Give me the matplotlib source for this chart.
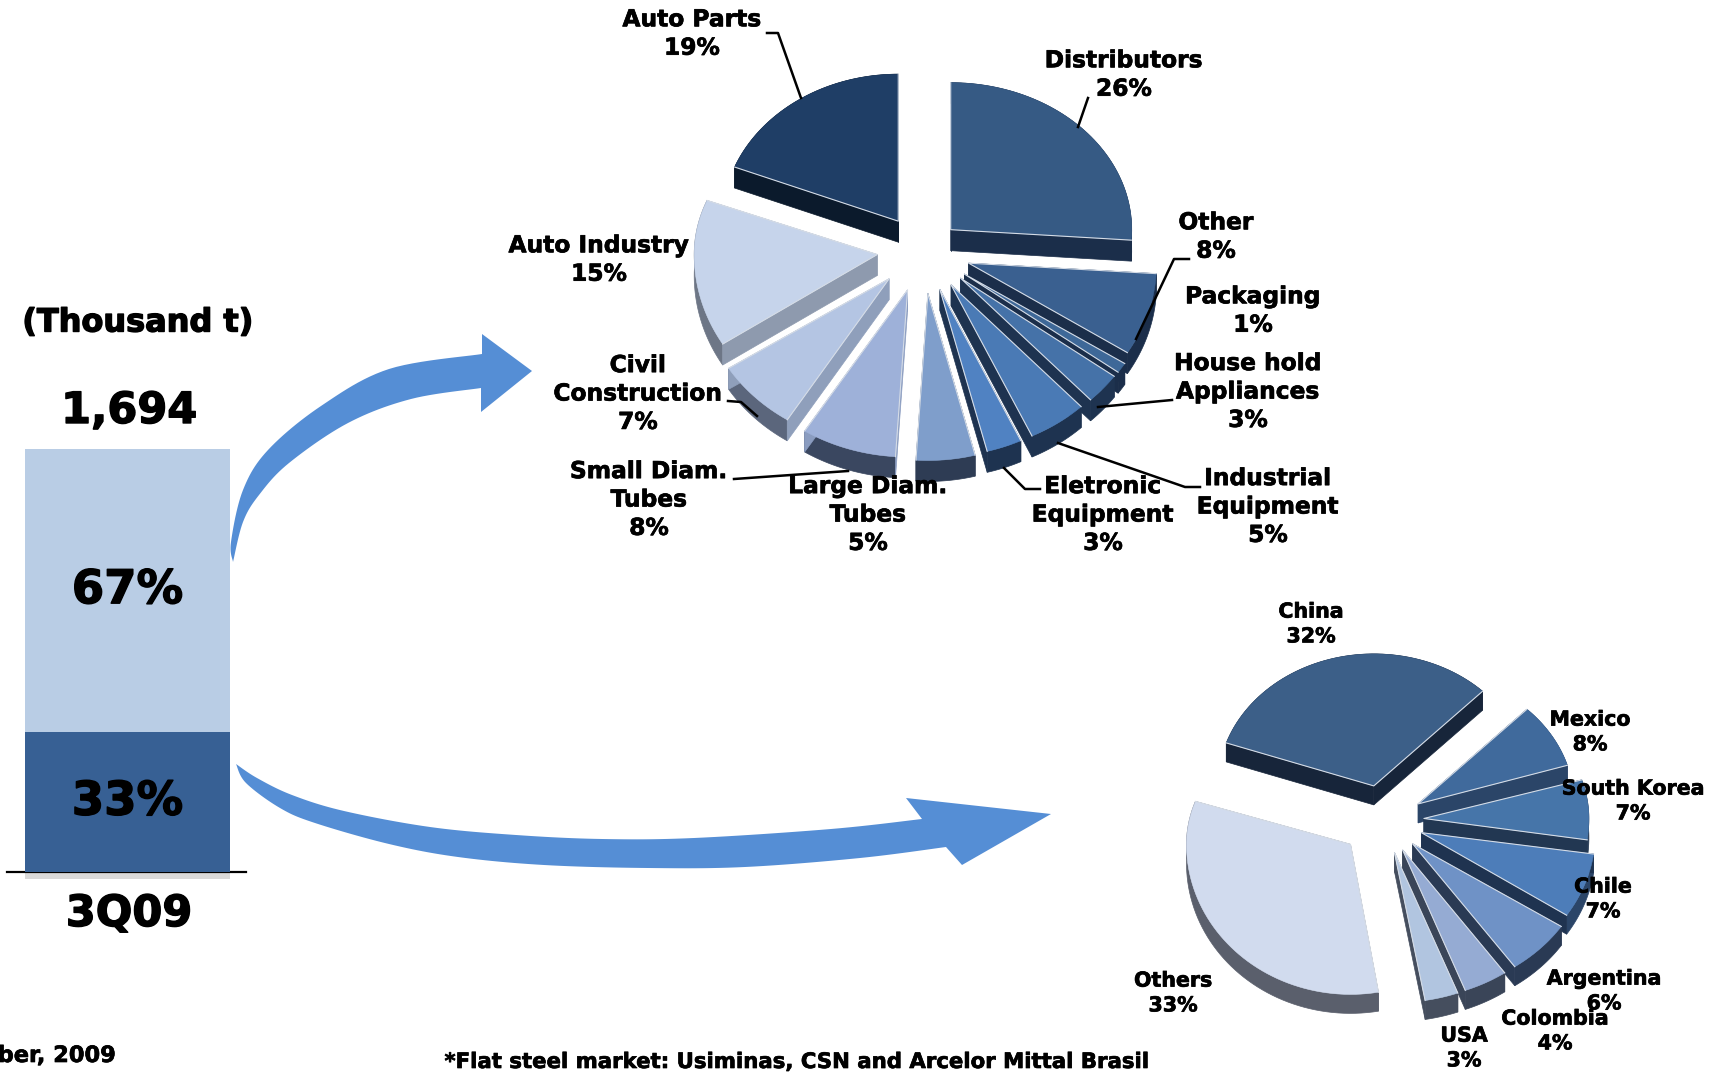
import numpy as np
import matplotlib
matplotlib.use("Agg")
import matplotlib.pyplot as plt
import matplotlib.patheffects as pe

W, H = 1719, 1074

# flat steel shares of the quarter
bar_labels = ["33%", "67%"]
bar_values = [33, 67]
bar_colors = ["#376094", "#b9cde5"]

# domestic market by sector, clockwise from the top
sectors = ["Distributors", "Other", "Packaging", "House hold\nAppliances", "Industrial\nEquipment",
           "Eletronic\nEquipment", "Large Diam.\nTubes", "Small Diam.\nTubes", "Civil\nConstruction",
           "Auto Industry", "Auto Parts"]
sector_values = [26, 8, 1, 3, 5, 3, 5, 8, 7, 15, 19]
sector_top = ["#365a84", "#3a6090", "#3e6898", "#4572a8", "#4a7ab5", "#5082c2",
              "#7f9ecb", "#9eb1d9", "#b4c5e3", "#c6d4eb", "#1f3e66"]
sector_cut = ["#1b2e4a", "#1b2e4a", "#1b2e4a", "#1e3350", "#1e3350", "#1e3350",
              "#2e3c54", "#8a9cc0", "#8f9fbb", "#8e9aae", "#0b1a2c"]
sector_rim = ["#1b2e4a", "#1b2e4a", "#1b2e4a", "#1e3350", "#1e3350", "#1e3350",
              "#2e3c54", "#3a4760", "#5b667c", "#6d7686", "#0b1a2c"]
sector_explode = [38, 48, 50, 50, 50, 50, 52, 50, 48, 46, 44]
sector_rx = [181, 188, 190, 190, 190, 190, 190, 192, 190, 183, 176]
sector_label_xy = [(1124, 75), (1216, 237), (1253, 311), (1248, 392), (1268, 507), (1103, 515),
                   (868, 515), (649, 500), (638, 394), (599, 260), (692, 34)]

# exports by destination, clockwise from China
countries = ["China", "Mexico", "South Korea", "Chile", "Argentina", "Colombia", "USA", "Others"]
country_values = [32, 8, 7, 7, 6, 4, 3, 33]
country_top = ["#3c5f88", "#406a9c", "#4675a9", "#4d7db9", "#6f92c6", "#95abd3", "#b1c5e0", "#d1dbee"]
country_cut = ["#17253a", "#2b4568", "#223752", "#1f3350", "#2a3a54", "#3a4558", "#454e5e", "#5a5f6c"]
country_rim = ["#17253a", "#2b4568", "#223752", "#2b4568", "#2a3a54", "#3a4558", "#454e5e", "#5a5f6c"]
country_explode = [44, 40, 40, 40, 40, 40, 40, 44]
country_rx = [156, 156, 165, 174, 178, 178, 180, 164]
country_label_xy = [(1311, 624), (1590, 732), (1633, 801), (1603, 899), (1604, 991),
                    (1555, 1031), (1464, 1048), (1173, 993)]

leaders = [
    [(767, 33), (778, 33), (801, 98)],
    [(1088, 98), (1078, 127)],
    [(1189, 259), (1174, 259), (1136, 339)],
    [(1172, 400), (1098, 407)],
    [(1200, 487), (1185, 487), (1058, 443)],
    [(1040, 489), (1025, 489), (1004, 468)],
    [(734, 479), (848, 471)],
    [(728, 401), (741, 402), (757, 416)],
]

# arrow outlines: outer edge, head, inner edge
upper_outer = [(233, 562), (231, 542), (243, 490), (268, 450), (321, 406), (389, 369), (482, 354)]
upper_head = [(482, 334), (532, 371), (481, 412)]
upper_inner = [(481, 388), (411, 399), (348, 423), (289, 463), (259, 495), (243, 522), (233, 562)]
lower_outer = [(236, 764), (257, 778), (292, 795), (344, 811), (430, 827), (516, 835), (602, 839),
               (694, 838), (831, 829), (922, 819)]
lower_head = [(906, 798), (1051, 814), (962, 865)]
lower_inner = [(946, 847), (860, 858), (745, 867), (648, 868), (544, 865), (458, 857), (389, 844),
               (315, 823), (280, 808), (246, 783), (236, 764)]


def smooth(points, n=12):
    # Catmull-Rom through the given points
    p = np.array([points[0]] + list(points) + [points[-1]], dtype=float)
    out = []
    for i in range(1, len(p) - 2):
        for t in np.linspace(0, 1, n, endpoint=False):
            out.append(0.5 * (2 * p[i] + (p[i + 1] - p[i - 1]) * t
                              + (2 * p[i - 1] - 5 * p[i] + 4 * p[i + 1] - p[i + 2]) * t ** 2
                              + (3 * p[i] - p[i - 1] - 3 * p[i + 1] + p[i + 2]) * t ** 3))
    out.append(p[-2])
    return np.array(out)


def draw_arrow(ax, outer, head, inner):
    pts = np.vstack([smooth(outer), np.array(head, dtype=float), smooth(inner)])
    ax.fill(pts[:, 0], pts[:, 1], color="#558ed5", lw=0, zorder=2)


def draw_pie(ax, values, center, rx, ry, depth, start, explode, top, cut, rim):
    ry_top, ry_bot = ry
    edges = start + np.cumsum([0] + list(values)) * 3.6
    mids = (edges[:-1] + edges[1:]) / 2
    # slices further back go first so the front ones overlap them
    for i in np.argsort(-np.cos(np.radians(mids))):
        a = np.radians(np.linspace(edges[i], edges[i + 1], 60))
        m = np.radians(mids[i])
        tx = center[0] + explode[i] * np.sin(m)
        ty = center[1] - explode[i] * np.cos(m) * 0.82
        x = tx + rx[i] * np.sin(a)
        y = ty - np.cos(a) * np.where(np.cos(a) > 0, ry_top, ry_bot)

        ax.fill(np.r_[x, x[::-1]], np.r_[y, y[::-1] + depth], color=rim[i], lw=0.5, zorder=3)
        for ex, ey in [(x[0], y[0]), (x[-1], y[-1])]:
            ax.fill([tx, ex, ex, tx], [ty, ey, ey + depth, ty + depth], color=cut[i], lw=0.5, zorder=3)
        ax.fill(np.r_[tx, x], np.r_[ty, y], color=top[i], lw=0.4, zorder=3)
        ax.plot([x[0], tx, x[-1]], [y[0], ty, y[-1]], color="#d5dce6", lw=0.8, zorder=3)


def heavy(size, lw=0.5):
    # DejaVu bold is lighter than the slide's face, thicken it a little
    return dict(ha="center", va="center", fontsize=size, fontweight="bold", zorder=5, linespacing=1.3,
                path_effects=[pe.withStroke(linewidth=lw, foreground="black")])


fig = plt.figure(figsize=(W / 100, H / 100), dpi=100)
ax = fig.add_axes([0, 0, 1, 1])
ax.set_xlim(0, W)
ax.set_ylim(H, 0)
ax.axis("off")

# stacked column on its own percent scale
bar_ax = fig.add_axes([25 / W, 1 - 872 / H, 205 / W, 423 / H], zorder=2)
bar_ax.set_xlim(-0.5, 0.5)
bar_ax.set_ylim(0, 100)
bar_ax.axis("off")
bottom = 0
for lab, val, col in zip(bar_labels, bar_values, bar_colors):
    bar_ax.bar(0, val, width=1, bottom=bottom, color=col)
    bar_ax.text(0, bottom + val / 2, lab, **heavy(33.5, 1.0))
    bottom += val

ax.fill_between([25, 230], 872, 879, color="#d9d9d9", lw=0)
ax.plot([7, 246], [872, 872], color="black", lw=1.6, zorder=4)

draw_arrow(ax, upper_outer, upper_head, upper_inner)
draw_arrow(ax, lower_outer, lower_head, lower_inner)

draw_pie(ax, sector_values, (923, 251), sector_rx, (147, 167), 21, 0, sector_explode,
         sector_top, sector_cut, sector_rim)
draw_pie(ax, country_values, (1384, 821), country_rx, (132, 150), 19, 289, country_explode,
         country_top, country_cut, country_rim)

for pts in leaders:
    ax.plot(*zip(*pts), color="black", lw=1.8, zorder=4)

for name, val, (x, y) in zip(sectors, sector_values, sector_label_xy):
    ax.text(x, y, f"{name}\n{val}%", **heavy(16.8))
for name, val, (x, y) in zip(countries, country_values, country_label_xy):
    ax.text(x, y, f"{name}\n{val}%", **heavy(14.8))

ax.text(138, 323, "(Thousand t)", **heavy(23, 1.0))
ax.text(129, 411, "1,694", **heavy(31, 1.0))
ax.text(129, 914, "3Q09", **heavy(31, 1.0))
ax.text(116, 1056, "September, 2009", **{**heavy(16.2), "ha": "right"})
ax.text(796, 1062, "*Flat steel market: Usiminas, CSN and Arcelor Mittal Brasil", **heavy(15.3))

fig.savefig("out.png", dpi=100)
